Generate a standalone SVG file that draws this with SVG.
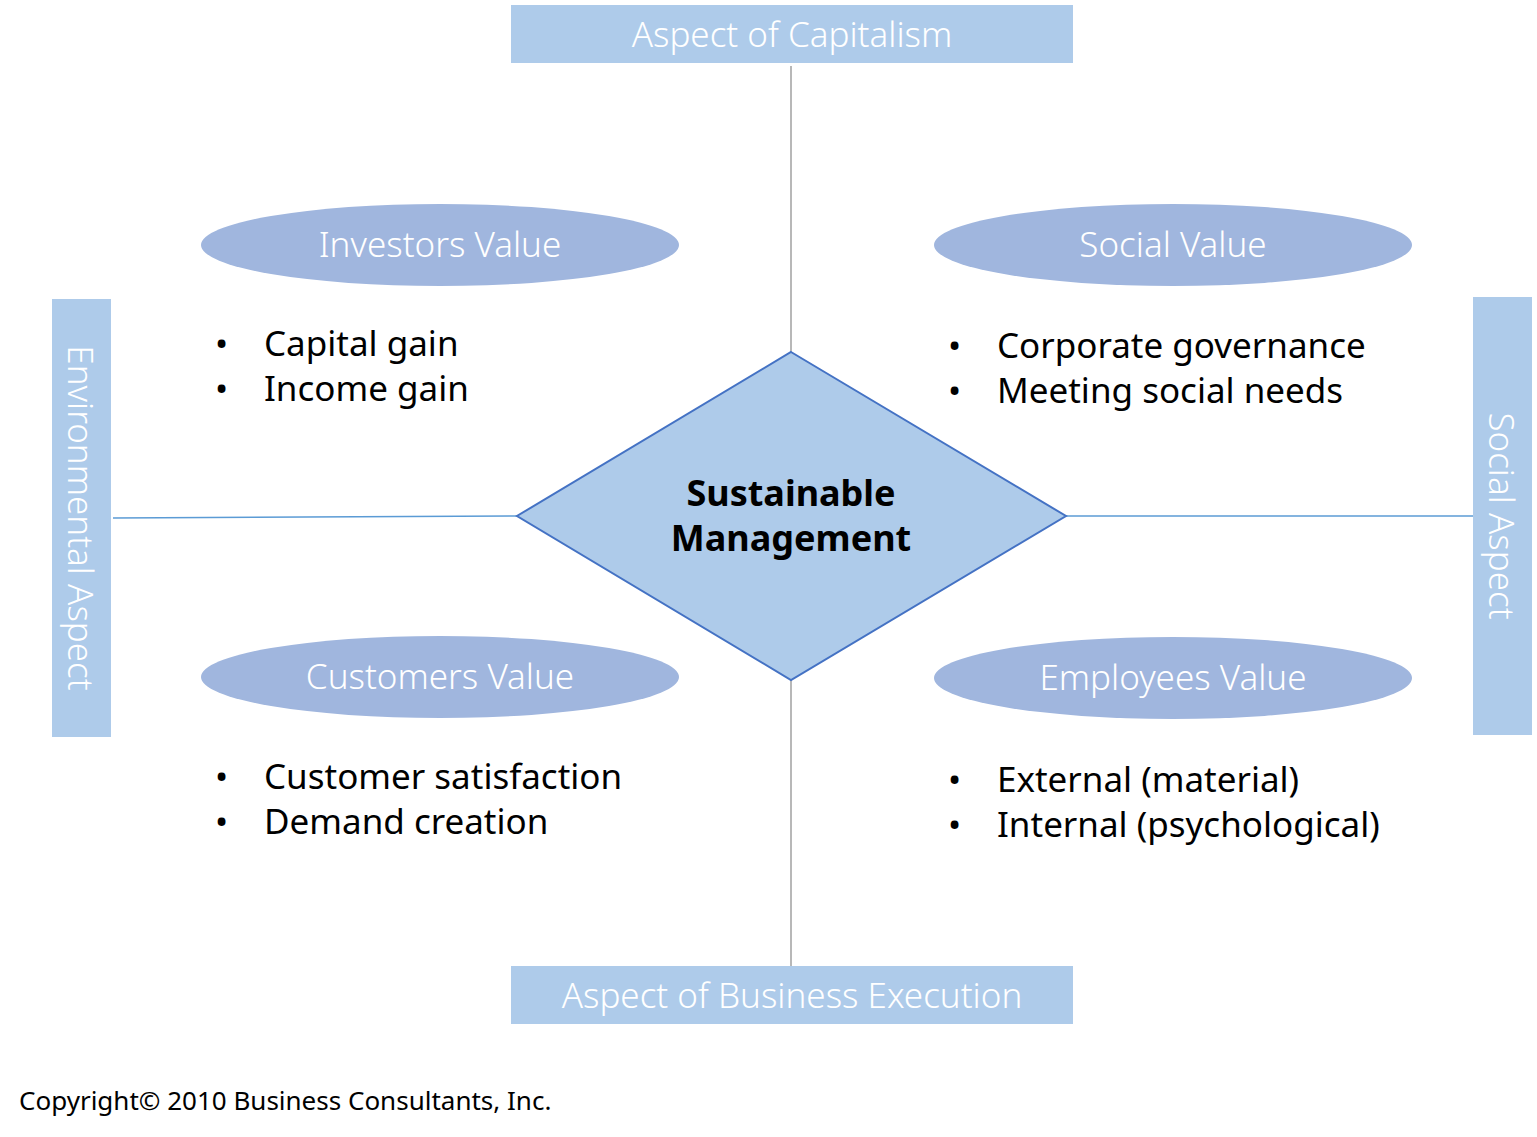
<svg xmlns="http://www.w3.org/2000/svg" width="1537" height="1137" viewBox="0 0 1537 1137">
<style>
.box{fill:#AECBEA}
.ell{fill:#A0B6DE}
.wt{font-family:"Noto Sans","Liberation Sans",sans-serif;font-size:35px;fill:#fff;text-anchor:middle;dominant-baseline:central;font-weight:300}
.bt{font-family:"Noto Sans","Liberation Sans",sans-serif;font-size:35px;fill:#000}
</style>
<rect width="1537" height="1137" fill="#fff"/>
<g id="connectors">
<line x1="791" y1="66" x2="791" y2="352" stroke="#A0A0A0" stroke-width="1.5"/>
<line x1="791" y1="680" x2="791" y2="966" stroke="#A0A0A0" stroke-width="1.5"/>
<line x1="113" y1="518" x2="517" y2="516" stroke="#5B9BD5" stroke-width="1.5"/>
<line x1="1066" y1="516" x2="1473" y2="516" stroke="#5B9BD5" stroke-width="1.5"/>
</g>
<g id="top"><rect class="box" x="511" y="5" width="562" height="58"/><text class="wt" x="792" y="33">Aspect of Capitalism</text></g>
<g id="bottom"><rect class="box" x="511" y="966" width="562" height="58"/><text class="wt" x="792" y="994">Aspect of Business Execution</text></g>
<g id="left"><rect class="box" x="52" y="299" width="59" height="438"/><text class="wt" transform="translate(81,518) rotate(90)">Environmental Aspect</text></g>
<g id="right"><rect class="box" x="1473" y="297" width="59" height="438"/><text class="wt" transform="translate(1502,516) rotate(90)">Social Aspect</text></g>
<g id="center"><polygon points="791,352 1066,516 791,680 517,516" fill="#AECBEA" stroke="#4472C4" stroke-width="2"/>
<text font-family="Noto Sans,Liberation Sans,sans-serif" font-size="36" font-weight="bold" text-anchor="middle"><tspan x="791" y="506">Sustainable</tspan><tspan x="791" y="551">Management</tspan></text></g>
<g id="investors"><ellipse class="ell" cx="440" cy="245" rx="239" ry="41"/><text class="wt" x="440" y="243">Investors Value</text>
<text class="bt"><tspan x="215" y="356">•</tspan><tspan x="264" y="356">Capital gain</tspan><tspan x="215" y="401">•</tspan><tspan x="264" y="401">Income gain</tspan></text></g>
<g id="social"><ellipse class="ell" cx="1173" cy="245" rx="239" ry="41"/><text class="wt" x="1173" y="243">Social Value</text>
<text class="bt"><tspan x="948" y="358">•</tspan><tspan x="997" y="358">Corporate governance</tspan><tspan x="948" y="403">•</tspan><tspan x="997" y="403">Meeting social needs</tspan></text></g>
<g id="customers"><ellipse class="ell" cx="440" cy="677" rx="239" ry="41"/><text class="wt" x="440" y="675">Customers Value</text>
<text class="bt"><tspan x="215" y="789">•</tspan><tspan x="264" y="789">Customer satisfaction</tspan><tspan x="215" y="834">•</tspan><tspan x="264" y="834">Demand creation</tspan></text></g>
<g id="employees"><ellipse class="ell" cx="1173" cy="678" rx="239" ry="41"/><text class="wt" x="1173" y="676">Employees Value</text>
<text class="bt"><tspan x="948" y="792">•</tspan><tspan x="997" y="792">External (material)</tspan><tspan x="948" y="837">•</tspan><tspan x="997" y="837">Internal (psychological)</tspan></text></g>
<text x="19" y="1110" font-family="Noto Sans,Liberation Sans,sans-serif" font-size="26" fill="#000">Copyright© 2010 Business Consultants, Inc.</text>
</svg>
